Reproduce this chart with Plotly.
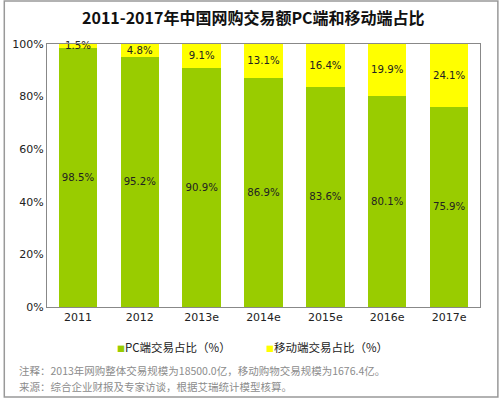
import plotly.graph_objects as go

categories = ["2011", "2012", "2013e", "2014e", "2015e", "2016e", "2017e"]
pc_share = [98.5, 95.2, 90.9, 86.9, 83.6, 80.1, 75.9]
mobile_share = [1.5, 4.8, 9.1, 13.1, 16.4, 19.9, 24.1]
y_ticks = [0, 20, 40, 60, 80, 100]
y_tick_labels = ["0%", "20%", "40%", "60%", "80%", "100%"]
legend_labels = ["PC端交易占比（%）", "移动端交易占比（%）"]
colors = ["#99CC00", "#FFFF00"]

W, H = 500, 399
L, R, T, B = 44, 20, 44, 92
pw, ph = W - L - R, H - T - B

def px(x):
    return (x - L) / pw

def py(y):
    return (H - B - y) / ph

fig = go.Figure()
for name, vals, col in [(legend_labels[0], pc_share, colors[0]), (legend_labels[1], mobile_share, colors[1])]:
    fig.add_trace(go.Bar(
        x=categories, y=vals, name=name,
        marker=dict(color=col, line=dict(width=0)),
        text=[f"{v}%" for v in vals], textposition="inside",
        insidetextanchor="middle", textangle=0, cliponaxis=False,
        textfont=dict(color="#222222", size=11, family="DejaVu Sans"),
        showlegend=False,
    ))

annotations = [
    dict(text="<b>2011-2017年中国网购交易额PC端和移动端占比</b>", xref="paper", yref="paper",
         x=px(252), y=py(17), xanchor="center", yanchor="middle", showarrow=False,
         font=dict(size=16, color="#111111", family="Noto Sans CJK SC")),
    dict(text="注释：2013年网购整体交易规模为18500.0亿，移动购物交易规模为1676.4亿。", xref="paper", yref="paper",
         x=px(14), y=py(370), xanchor="left", yanchor="middle", showarrow=False,
         font=dict(size=10.5, color="#8c8c8c", family="Noto Sans CJK SC")),
    dict(text="来源：综合企业财报及专家访谈，根据艾瑞统计模型核算。", xref="paper", yref="paper",
         x=px(14), y=py(386), xanchor="left", yanchor="middle", showarrow=False,
         font=dict(size=10.5, color="#8c8c8c", family="Noto Sans CJK SC")),
]
# custom legend
for lx, lab, col in [(112, legend_labels[0], colors[0]), (262, legend_labels[1], colors[1])]:
    annotations.append(dict(
        text=f"<span style='color:{col};font-size:8px'>■</span>{lab}", xref="paper", yref="paper",
        x=px(lx), y=py(347), xanchor="left", yanchor="middle", showarrow=False,
        font=dict(size=11.5, color="#222222", family="Noto Sans CJK SC")))

shapes = [
    dict(type="rect", xref="paper", yref="paper", x0=px(1), x1=px(498), y0=py(1), y1=py(397),
         line=dict(color="#999999", width=1.5), layer="below"),
]

fig.update_layout(
    width=W, height=H, barmode="stack", bargap=0.38,
    margin=dict(l=L, r=R, t=T, b=B),
    paper_bgcolor="white", plot_bgcolor="white",
    font=dict(family="Century Gothic, DejaVu Sans, Noto Sans CJK SC", size=11, color="#222222"),
    showlegend=False,
    annotations=annotations, shapes=shapes,
    uniformtext=dict(minsize=8, mode="show"),
)
fig.update_xaxes(showline=True, linecolor="#888888", linewidth=1, mirror=True,
                 tickfont=dict(size=11, color="#222222"), ticks="")
fig.update_yaxes(range=[0, 100], tickvals=y_ticks, ticktext=y_tick_labels,
                 showgrid=False, zeroline=False, showline=True, linecolor="#888888", linewidth=1,
                 mirror=True, tickfont=dict(size=11, color="#222222"), ticks="")

fig.write_html("out.html", config={"displayModeBar": False},
               post_script="document.body.style.margin='0';document.body.style.padding='0';")
